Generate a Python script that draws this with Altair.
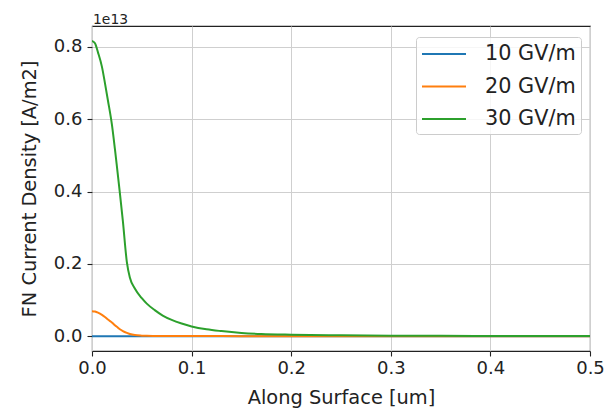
import altair as alt
import pandas as pd

# Position along the surface (um), shared sample grid for all three fields
along = [0.0, 0.003, 0.006, 0.01, 0.013, 0.016, 0.02, 0.023, 0.025, 0.028,
         0.031, 0.035, 0.038, 0.043, 0.05, 0.055, 0.063, 0.071, 0.08, 0.09,
         0.1, 0.115, 0.13, 0.15, 0.17, 0.2, 0.25, 0.3, 0.35, 0.4, 0.45, 0.5]

# Fowler-Nordheim current density in A/m2
j_10 = [0.0] * len(along)
j_20 = [6.9e11, 6.8e11, 6.5e11, 5.9e11, 5.3e11, 4.6e11, 3.8e11, 3.0e11, 2.6e11, 1.9e11,
        1.4e11, 9.0e10, 6.0e10, 3.0e10, 1.5e10, 1.0e10, 7.0e9, 5.0e9, 4.0e9, 3.0e9,
        2.5e9, 2.0e9, 1.5e9, 1.0e9, 8.0e8, 5.0e8, 3.0e8, 2.0e8, 1.0e8, 5.0e7, 3.0e7, 2.0e7]
j_30 = [8.17e12, 8.10e12, 7.85e12, 7.45e12, 7.00e12, 6.52e12, 5.85e12, 5.18e12, 4.70e12, 3.96e12,
        3.18e12, 2.05e12, 1.62e12, 1.32e12, 1.05e12, 9.0e11, 7.2e11, 5.7e11, 4.5e11, 3.5e11,
        2.7e11, 1.9e11, 1.4e11, 9.0e10, 6.0e10, 4.0e10, 2.5e10, 1.5e10, 1.0e10, 7.0e9, 5.0e9, 4.0e9]

series_names = ["10 GV/m", "20 GV/m", "30 GV/m"]
series_colors = ["#1f77b4", "#ff7f0e", "#2ca02c"]

rows = []
for name, vals in zip(series_names, [j_10, j_20, j_30]):
    for x, v in zip(along, vals):
        rows.append({"along": x, "density": v, "field": name})
df = pd.DataFrame(rows)

FONT = "DejaVu Sans"
INK = "#222222"

chart = alt.Chart(df).mark_line(strokeWidth=2, interpolate="monotone", clip=True).encode(
    x=alt.X("along:Q",
            scale=alt.Scale(domain=[0, 0.5], nice=False, zero=False),
            axis=alt.Axis(title="Along Surface [um]", values=[0, 0.1, 0.2, 0.3, 0.4, 0.5],
                          format=".1f", labelPadding=3, titlePadding=11, labelFlush=False)),
    y=alt.Y("density:Q",
            scale=alt.Scale(domain=[-0.041e13, 0.858e13], nice=False, zero=False),
            axis=alt.Axis(title="FN Current Density [A/m2]",
                          values=[0, 0.2e13, 0.4e13, 0.6e13, 0.8e13],
                          labelExpr="format(datum.value / 1e13, '.1f')",
                          labelPadding=5, titlePadding=14, labelFlush=False)),
    color=alt.Color("field:N",
                    scale=alt.Scale(domain=series_names, range=series_colors),
                    legend=alt.Legend(title=None, orient="none", legendX=324, legendY=11,
                                      symbolType="M-2,0H2", symbolSize=484, symbolStrokeWidth=2,
                                      symbolOffset=11,
                                      labelFontSize=20.8, labelFont=FONT, labelColor=INK,
                                      labelOffset=29, rowPadding=10.5, padding=5,
                                      fillColor="rgba(255,255,255,0.8)", strokeColor="#cccccc",
                                      cornerRadius=3)),
).properties(
    width=498,
    height=325,
    background="white",
    title=alt.TitleParams("1e13", anchor="start", frame="group", fontSize=13.9,
                          fontWeight="normal", font=FONT, color=INK,
                          baseline="alphabetic", offset=4, dx=1, dy=16),
    autosize=alt.AutoSizeParams(type="none"),
    padding={"left": 92, "top": 26, "right": 17, "bottom": 60},
).configure_view(
    stroke=INK, strokeWidth=1.1
).configure_axis(
    labelFont=FONT, titleFont=FONT, labelFontSize=18, titleFontSize=19.4,
    labelColor=INK, titleColor=INK, titleFontWeight="normal",
    grid=True, gridColor="#cfcfcf", gridWidth=1, domain=False,
    tickColor=INK, tickSize=5, tickWidth=1.1
)

chart.save("out.html", embed_options={"renderer": "svg", "actions": False})
